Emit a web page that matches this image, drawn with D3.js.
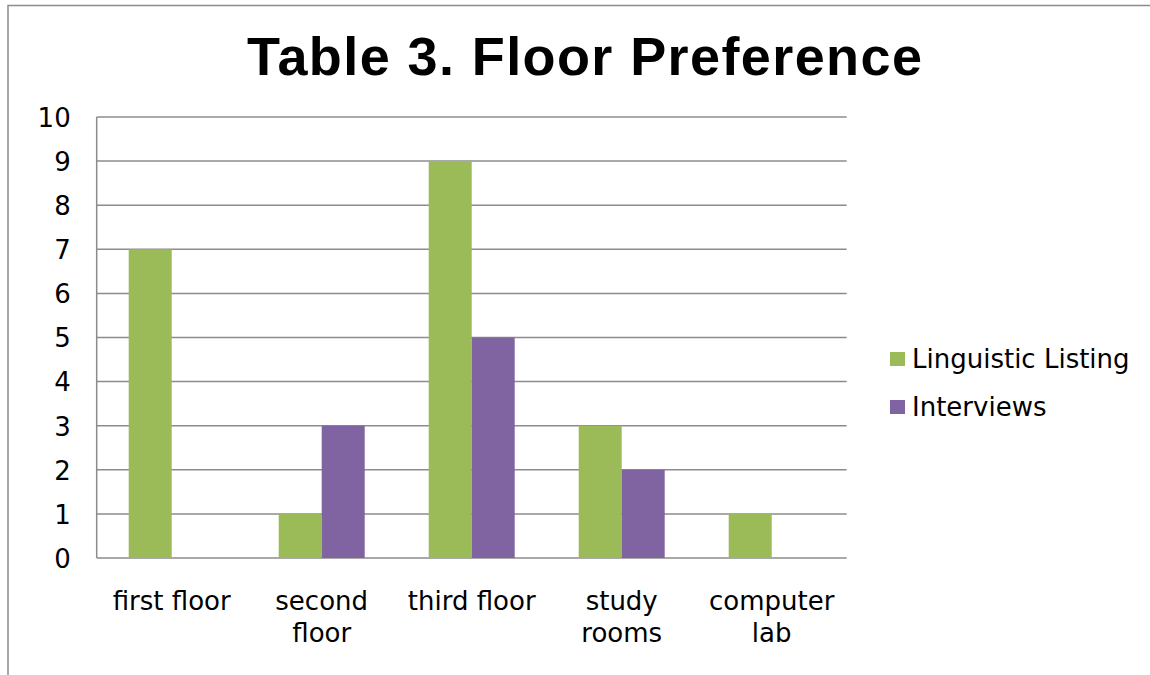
<!DOCTYPE html>
<html>
<head>
<meta charset="utf-8">
<script src="https://cdn.jsdelivr.net/npm/d3@7"></script>
<style>
  html, body { margin: 0; padding: 0; background: #fff; }
  svg { display: block; }
</style>
</head>
<body>
<svg id="chart" width="1150" height="675"></svg>
<script>
const categories = [["first floor"], ["second", "floor"], ["third floor"], ["study", "rooms"], ["computer", "lab"]];
const seriesNames = ["Linguistic Listing", "Interviews"];
const linguisticListing = [7, 1, 9, 3, 1];
const interviews = [0, 3, 5, 2, 0];
const yTicks = [0, 1, 2, 3, 4, 5, 6, 7, 8, 9, 10];
const colors = ["#9BBB59", "#8064A2"];
const title = "Table 3. Floor Preference";

const svg = d3.select("#chart");
const gridColor = "#8c8c8c";
const axisFont = "'DejaVu Sans', Verdana, sans-serif";

// outer chart border
svg.append("rect")
  .attr("x", 8).attr("y", 5.5)
  .attr("width", 1300).attr("height", 900)
  .attr("fill", "none").attr("stroke", gridColor).attr("stroke-width", 1.5);

// title
svg.append("text")
  .attr("x", 584.5).attr("y", 75)
  .attr("text-anchor", "middle")
  .attr("font-family", "'Liberation Sans', Arial, sans-serif")
  .attr("font-weight", "bold")
  .attr("font-size", 54)
  .attr("textLength", 675)
  .attr("lengthAdjust", "spacing")
  .attr("fill", "#000")
  .text(title);

const plot = { left: 96.7, right: 846.7, top: 117, bottom: 558 };

const x0 = d3.scaleBand()
  .domain(d3.range(categories.length))
  .range([plot.left, plot.right])
  .paddingInner(0).paddingOuter(0);
const barW = 43;
const x1 = d3.scaleBand()
  .domain(d3.range(seriesNames.length))
  .range([0, barW * 2]);
const y = d3.scaleLinear().domain([0, 10]).range([plot.bottom, plot.top]);

// gridlines
svg.append("g")
  .selectAll("line")
  .data(yTicks)
  .join("line")
  .attr("x1", plot.left).attr("x2", plot.right)
  .attr("y1", d => y(d)).attr("y2", d => y(d))
  .attr("stroke", gridColor).attr("stroke-width", 1.5);

// y axis line
svg.append("line")
  .attr("x1", plot.left).attr("x2", plot.left)
  .attr("y1", plot.top).attr("y2", plot.bottom)
  .attr("stroke", gridColor).attr("stroke-width", 1.5);

// y tick labels
const yAxis = d3.axisLeft(y).tickValues(yTicks).tickSize(0).tickPadding(26);
const ya = svg.append("g").attr("transform", `translate(${plot.left},0)`).call(yAxis);
ya.select(".domain").remove();
ya.selectAll("text")
  .attr("font-family", axisFont).attr("font-size", 26).attr("fill", "#000")
  .attr("dy", "0.36em");

// bars
const series = [linguisticListing, interviews];
series.forEach((vals, si) => {
  svg.append("g")
    .selectAll("rect")
    .data(vals)
    .join("rect")
    .attr("x", (d, i) => x0(i) + x0.bandwidth() / 2 - barW + x1(si))
    .attr("y", d => y(d))
    .attr("width", x1.bandwidth())
    .attr("height", d => y(0) - y(d))
    .attr("fill", colors[si]);
});

// category labels
const cl = svg.append("g");
categories.forEach((lines, i) => {
  const t = cl.append("text")
    .attr("x", x0(i) + x0.bandwidth() / 2)
    .attr("y", 610)
    .attr("text-anchor", "middle")
    .attr("font-family", axisFont).attr("font-size", 26).attr("fill", "#000");
  lines.forEach((ln, j) => {
    t.append("tspan")
      .attr("x", x0(i) + x0.bandwidth() / 2)
      .attr("dy", j === 0 ? 0 : 31.5)
      .text(ln);
  });
});

// legend
const lg = svg.append("g");
seriesNames.forEach((name, i) => {
  const yy = 352 + i * 48;
  lg.append("rect").attr("x", 890).attr("y", yy).attr("width", 15).attr("height", 14).attr("fill", colors[i]);
  lg.append("text").attr("x", 912).attr("y", yy + 16)
    .attr("font-family", axisFont).attr("font-size", 26).attr("fill", "#000")
    .text(name);
});
</script>
</body>
</html>
